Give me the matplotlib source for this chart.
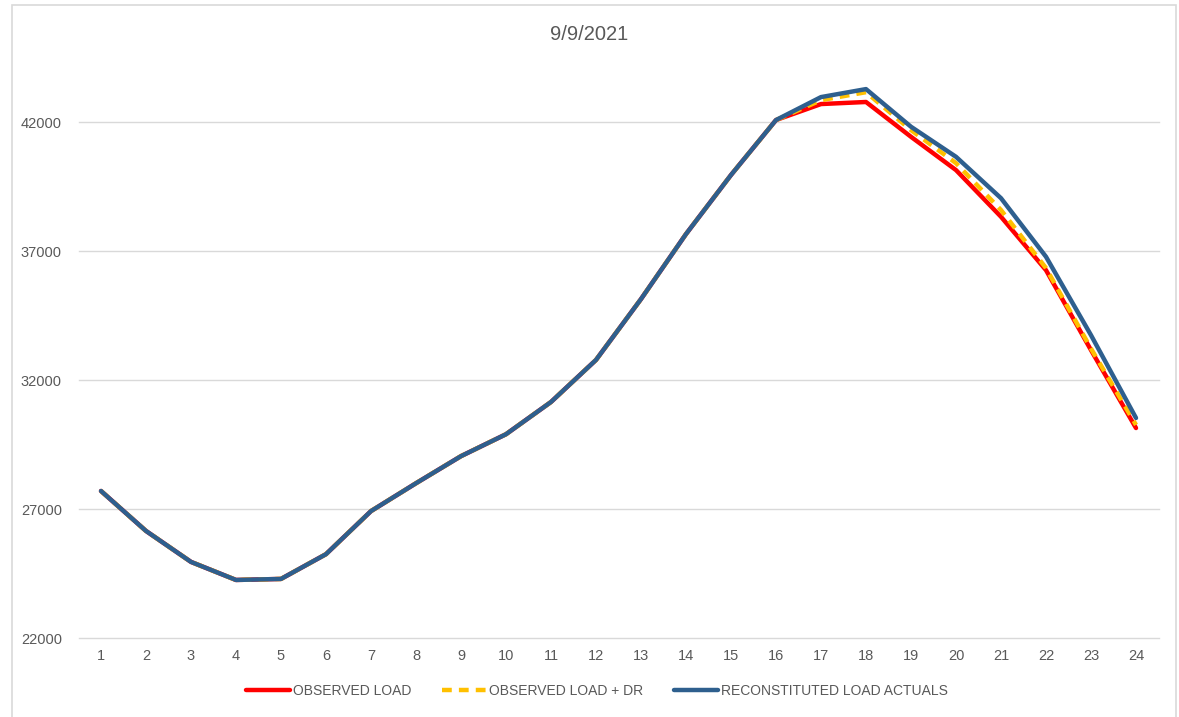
import matplotlib.pyplot as plt
from matplotlib.patches import Rectangle

# hour-ending values
hours = list(range(1, 25))
observed_load = [27700, 26150, 24950, 24250, 24290, 25250, 26920, 28000, 29050, 29900,
                 31150, 32780, 35140, 37660, 39950, 42080, 42700, 42780, 41430, 40140,
                 38330, 36260, 33160, 30140]
observed_load_dr = [27700, 26150, 24950, 24250, 24290, 25250, 26920, 28000, 29050, 29900,
                    31150, 32780, 35140, 37660, 39950, 42080, 42850, 43160, 41690, 40410,
                    38590, 36340, 33220, 30260]
reconstituted = [27700, 26150, 24950, 24250, 24290, 25250, 26920, 28000, 29050, 29900,
                 31150, 32780, 35140, 37660, 39950, 42080, 42970, 43280, 41820, 40655,
                 39050, 36780, 33740, 30530]
yticks = [22000, 27000, 32000, 37000, 42000]

plt.rcParams['font.family'] = ['Liberation Sans', 'DejaVu Sans']
grey = '#595959'

fig = plt.figure(figsize=(11.79, 7.17), dpi=100)
# chart area border
fig.patches.append(Rectangle((12 / 1179, -0.01), (1176 - 12) / 1179, 1.01 - 5 / 717,
                             transform=fig.transFigure, fill=False,
                             edgecolor='#d9d9d9', linewidth=1.2))

ax = fig.add_axes([78.5 / 1179, 1 - 638 / 717, 1080 / 1179, (638 - 70) / 717])

ax.plot(hours, observed_load, color='#ff0000', linewidth=3.2, label='OBSERVED LOAD',
        solid_capstyle='round', zorder=3)
ax.plot(hours, observed_load_dr, color='#ffc000', linewidth=3.2, linestyle=(0, (2.2, 1.6)),
        label='OBSERVED LOAD + DR', zorder=4)
ax.plot(hours, reconstituted, color='#2e5f8e', linewidth=3.2, label='RECONSTITUTED LOAD ACTUALS',
        solid_capstyle='round', zorder=5)

ax.set_xlim(0.5, 24.5)
ax.set_ylim(22000, 44020)
ax.set_xticks(hours)
ax.set_yticks(yticks)
ax.grid(axis='y', color='#d9d9d9', linewidth=1)
for gl in ax.get_ygridlines():
    gl.set_clip_on(False)
ax.set_axisbelow(True)
for s in ax.spines.values():
    s.set_visible(False)
ax.tick_params(length=0, labelsize=10.5, colors=grey, pad=8)
ax.tick_params(axis='y', pad=12)

fig.text(0.5, 1 - 35 / 717, '9/9/2021', ha='center', va='center', fontsize=14.5, color=grey)

leg = fig.legend(loc='center', bbox_to_anchor=(597 / 1179, 1 - 691 / 717), ncol=3,
                 frameon=False, fontsize=10, handlelength=3.2, handletextpad=0.2,
                 columnspacing=2.2)
for t in leg.get_texts():
    t.set_color(grey)

fig.savefig('out.png', dpi=100)
